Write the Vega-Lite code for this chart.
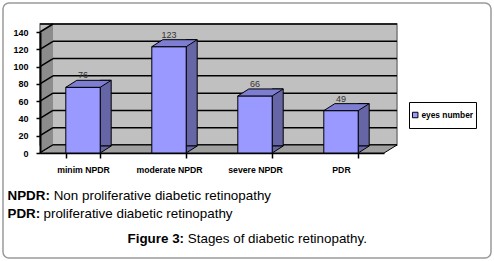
{
  "$schema": "https://vega.github.io/schema/vega-lite/v6.json",
  "width": 344,
  "height": 121,
  "autosize": "none",
  "padding": {"left": 40, "top": 32, "right": 110, "bottom": 108},
  "background": "white",
  "config": {
    "font": "Liberation Sans",
    "view": {"stroke": null},
    "axis": {"zindex": 1, "grid": false},
    "axisX": {
      "tickBand": "extent", "domainColor": "black", "domainWidth": 1.5,
      "tickColor": "black", "tickWidth": 1.5, "tickSize": 5,
      "labelAngle": 0, "labelFontSize": 8.7, "labelFontWeight": "bold", "labelColor": "black", "labelPadding": 7,
      "titleFontSize": 13.4, "titleFontWeight": "normal", "titleColor": "black",
      "titleAlign": "left", "titleBaseline": "alphabetic"
    }
  },
  "datasets": {
    "stages": [
      {"stage": "minim NPDR", "eyes": 76, "series": "eyes number"},
      {"stage": "moderate NPDR", "eyes": 123, "series": "eyes number"},
      {"stage": "severe NPDR", "eyes": 66, "series": "eyes number"},
      {"stage": "PDR", "eyes": 49, "series": "eyes number"}
    ],
    "grid": [{"v": 0}, {"v": 20}, {"v": 40}, {"v": 60}, {"v": 80}, {"v": 100}, {"v": 120}, {"v": 140}],
    "one": [{}]
  },
  "title": {
    "text": "proliferative diabetic retinopathy", "orient": "bottom", "anchor": "start", "frame": "group",
    "dx": 3.5, "dy": -54.3, "offset": 0, "fontSize": 13.4, "fontWeight": "normal", "color": "black"
  },
  "resolve": {"axis": {"y": "independent", "x": "independent"}},
  "layer": [
    {
      "data": {"name": "one"},
      "mark": {"type": "point", "shape": "M-203 -150 L273 -150 A6 6 0 0 1 279 -144 L279 99 A6 6 0 0 1 273 105 L-203 105 A6 6 0 0 1 -209 99 L-209 -144 A6 6 0 0 1 -203 -150 Z",
               "size": 4, "filled": false, "stroke": "#9a9a9a", "strokeWidth": 1.5, "opacity": 1},
      "encoding": {"y": {"datum": 0, "type": "quantitative", "axis": null}}
    },
    {
      "data": {"name": "one"},
      "mark": {"type": "rect", "fill": "#c0c0c0", "stroke": "#7a7a7a", "strokeWidth": 1.5,
               "xOffset": 13, "x2Offset": 13, "yOffset": -8, "y2Offset": -8},
      "encoding": {
        "y": {"datum": 140, "type": "quantitative", "axis": null, "scale": {"domain": [0, 140], "nice": false}},
        "y2": {"datum": 0}
      }
    },
    {
      "data": {"name": "grid"},
      "mark": {"type": "rule", "stroke": "black", "strokeWidth": 1.5, "xOffset": 13, "x2Offset": 13, "yOffset": -8},
      "encoding": {"y": {"field": "v", "type": "quantitative", "axis": null}}
    },
    {
      "data": {"name": "one"},
      "mark": {"type": "point", "shape": "M-172 0 L-159 -8 L-159 -129 L-172 -121 Z", "size": 4, "filled": true,
               "fill": "#8c8c8c", "strokeWidth": 0, "opacity": 1},
      "encoding": {"y": {"datum": 0, "type": "quantitative", "axis": null}}
    },
    {
      "data": {"name": "grid"},
      "mark": {"type": "point", "shape": "M-172 0 L-159 -8", "size": 4, "filled": false,
               "stroke": "black", "strokeWidth": 1.5, "opacity": 1},
      "encoding": {"y": {"field": "v", "type": "quantitative", "axis": null}}
    },
    {
      "data": {"name": "one"},
      "mark": {"type": "point", "shape": "M-172 0 L172 0 L185 -8 L-159 -8 Z", "size": 4, "filled": true,
               "fill": "#a0a0a0", "stroke": "black", "strokeWidth": 1, "opacity": 1},
      "encoding": {"y": {"datum": 0, "type": "quantitative", "axis": null}}
    },
    {
      "data": {"name": "stages"},
      "mark": {"type": "bar", "width": 11, "xOffset": 22.7, "yOffset": -7, "y2Offset": -7,
               "fill": "#6666a6", "stroke": "black", "strokeWidth": 1},
      "encoding": {
        "x": {"field": "stage", "type": "nominal", "sort": null, "scale": {"paddingInner": 0.6, "paddingOuter": 0.3}, "axis": null},
        "y": {"field": "eyes", "type": "quantitative", "axis": null}
      }
    },
    {
      "data": {"name": "stages"},
      "mark": {"type": "point", "shape": "M17.2 -7 L28.2 -7 L17.2 0 Z", "size": 4, "filled": true,
               "fill": "#6666a6", "stroke": "black", "strokeWidth": 1, "opacity": 1},
      "encoding": {
        "x": {"field": "stage", "type": "nominal", "sort": null, "axis": null},
        "y": {"datum": 0, "type": "quantitative", "axis": null}
      }
    },
    {
      "data": {"name": "stages"},
      "mark": {"type": "bar", "stroke": "black", "strokeWidth": 1},
      "encoding": {
        "x": {"field": "stage", "type": "nominal", "sort": null, "scale": {"paddingInner": 0.6, "paddingOuter": 0.3},
              "axis": {"orient": "bottom", "title": "Non proliferative diabetic retinopathy", "titleX": 13.2, "titleY": 46.5}},
        "y": {"field": "eyes", "type": "quantitative", "scale": {"domain": [0, 140], "nice": false},
              "axis": {"orient": "left", "values": [0, 20, 40, 60, 80, 100, 120, 140], "zindex": 1,
                       "domainColor": "black", "domainWidth": 2, "tickColor": "black", "tickWidth": 1.5, "tickSize": 4,
                       "labelFontSize": 9, "labelFontWeight": "bold", "labelColor": "black", "labelPadding": 8,
                       "title": ["NPDR:", "PDR:"], "titleAngle": 0, "titleX": -33, "titleY": 167.5,
                       "titleAlign": "left", "titleBaseline": "alphabetic", "titleFontSize": 13.4,
                       "titleFontWeight": "bold", "titleColor": "black", "titleLineHeight": 17.5}},
        "color": {"field": "series", "type": "nominal", "scale": {"range": ["#9999ff"]},
                  "legend": {"orient": "none", "legendX": 369, "legendY": 70, "title": null,
                             "symbolType": "square", "symbolSize": 30, "symbolStrokeColor": "black",
                             "symbolStrokeWidth": 1, "symbolFillColor": "#9999ff",
                             "labelFontSize": 8.4, "labelFontWeight": "bold", "labelColor": "black", "labelOffset": 2,
                             "columnPadding": 0, "rowPadding": 0,
                             "padding": 2, "strokeColor": "black", "fillColor": "white", "clipHeight": 22}}
      }
    },
    {
      "data": {"name": "stages"},
      "mark": {"type": "point", "shape": "M-17.2 0 L17.2 0 L28.2 -7 L-6.2 -7 Z", "size": 4, "filled": true,
               "fill": "#7d7dd2", "stroke": "black", "strokeWidth": 1, "opacity": 1},
      "encoding": {
        "x": {"field": "stage", "type": "nominal", "sort": null, "axis": null},
        "y": {"field": "eyes", "type": "quantitative", "axis": null}
      }
    },
    {
      "data": {"name": "stages"},
      "mark": {"type": "text", "dy": -9, "baseline": "alphabetic", "fontSize": 9, "fill": "#333333"},
      "encoding": {
        "x": {"field": "stage", "type": "nominal", "sort": null,
              "axis": {"orient": "top", "labels": false, "ticks": false, "domain": false,
                       "title": "Stages of diabetic retinopathy.", "titleX": 147.3, "titleY": 210}},
        "y": {"field": "eyes", "type": "quantitative",
              "axis": {"orient": "right", "labels": false, "ticks": false, "domain": false, "grid": false,
                       "title": "Figure 3:", "titleAngle": 0, "titleX": -257, "titleY": 210,
                       "titleAlign": "left", "titleBaseline": "alphabetic", "titleFontSize": 13.4,
                       "titleFontWeight": "bold", "titleColor": "black"}},
        "text": {"field": "eyes", "type": "quantitative"}
      }
    }
  ]
}
